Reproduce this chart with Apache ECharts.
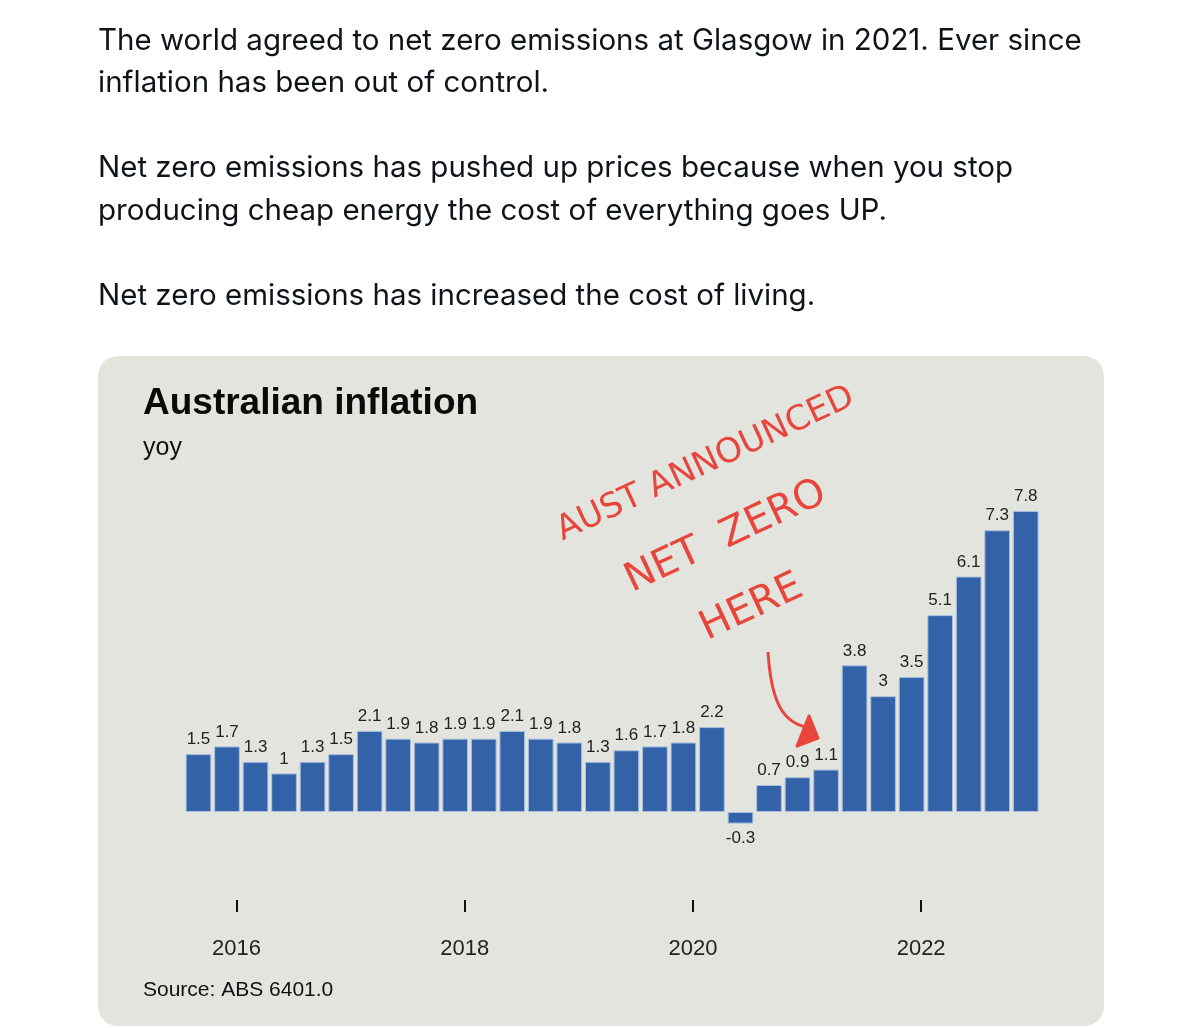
<!DOCTYPE html>
<html>
<head>
<meta charset="utf-8">
<script src="https://cdn.jsdelivr.net/npm/echarts@6/dist/echarts.min.js"></script>
<style>
  html, body { margin: 0; padding: 0; background: #fff; }
  #chart { width: 1200px; height: 1028px; }
</style>
</head>
<body>
<div id="chart"></div>
<script>
// quarterly CPI, year on year (%)
var quarters = [
  'Sep-2015', 'Dec-2015', 'Mar-2016', 'Jun-2016', 'Sep-2016', 'Dec-2016',
  'Mar-2017', 'Jun-2017', 'Sep-2017', 'Dec-2017', 'Mar-2018', 'Jun-2018',
  'Sep-2018', 'Dec-2018', 'Mar-2019', 'Jun-2019', 'Sep-2019', 'Dec-2019',
  'Mar-2020', 'Jun-2020', 'Sep-2020', 'Dec-2020', 'Mar-2021', 'Jun-2021',
  'Sep-2021', 'Dec-2021', 'Mar-2022', 'Jun-2022', 'Sep-2022', 'Dec-2022'
];
var inflation = [
  1.5, 1.7, 1.3, 1, 1.3, 1.5,
  2.1, 1.9, 1.8, 1.9, 1.9, 2.1,
  1.9, 1.8, 1.3, 1.6, 1.7, 1.8,
  2.2, -0.3, 0.7, 0.9, 1.1, 3.8,
  3, 3.5, 5.1, 6.1, 7.3, 7.8
];
var tickYears = [2016, 2018, 2020, 2022];

var tweetLines = [
  'The world agreed to net zero emissions at Glasgow in 2021. Ever since',
  'inflation has been out of control.',
  '',
  'Net zero emissions has pushed up prices because when you stop',
  'producing cheap energy the cost of everything goes UP.',
  '',
  'Net zero emissions has increased the cost of living.'
];
var noteLines = ['AUST ANNOUNCED', 'NET  ZERO', 'HERE'];

// first bar is Sep 2015, year ticks sit at 1 January
function yearToIndex(y) { return ((y - 2015) * 12 - 8) / 3; }
var tickPos = tickYears.map(yearToIndex);

var chart = echarts.init(document.getElementById('chart'));

var font = '"Liberation Sans", Arial, Helvetica, sans-serif';
var red = '#e8463d';
var rot = 25 * Math.PI / 180;

var graphics = [
  {
    type: 'rect', z: -10, silent: true,
    shape: { x: 98, y: 356, width: 1006, height: 670, r: 20 },
    style: { fill: '#e4e4df' }
  },
  {
    type: 'text', x: 143, y: 404,
    style: { text: 'Australian inflation', font: 'bold 37px ' + font, fill: '#0a0a0a', verticalAlign: 'middle' }
  },
  {
    type: 'text', x: 143, y: 448,
    style: { text: 'yoy', font: '25px ' + font, fill: '#111', verticalAlign: 'middle' }
  },
  {
    type: 'text', x: 143, y: 990,
    style: { text: 'Source: ABS 6401.0', font: '21px ' + font, fill: '#111', verticalAlign: 'middle' }
  }
];

tweetLines.forEach(function (line, i) {
  if (!line) return;
  graphics.push({
    type: 'text', x: 98, y: 41 + i * 42.5,
    style: { text: line, font: '29.5px Inter, "Noto Sans", sans-serif', fill: '#0f1419', verticalAlign: 'middle' }
  });
});

// handwritten note
var notePos = [[566, 548], [636, 601], [711, 649]];
var noteSize = [34, 40, 40];
noteLines.forEach(function (line, i) {
  graphics.push({
    type: 'text', x: notePos[i][0], y: notePos[i][1], rotation: rot,
    style: { text: line, font: noteSize[i] + 'px "DejaVu Sans", sans-serif', fill: red, verticalAlign: 'bottom' }
  });
});
graphics.push({
  type: 'bezierCurve',
  shape: { x1: 768, y1: 652, x2: 806, y2: 727, cpx1: 771, cpy1: 700, cpx2: 782, cpy2: 722 },
  style: { stroke: red, lineWidth: 3, fill: null }
});
graphics.push({
  type: 'polygon',
  shape: { points: [[809, 716], [818, 738], [797, 746]] },
  style: { fill: red, stroke: red, lineWidth: 3, lineJoin: 'round' }
});

var option = {
  animation: false,
  backgroundColor: '#fff',
  grid: { left: 184.2, right: 160, top: 503.2, bottom: 128 },
  xAxis: [
    {
      type: 'category',
      data: quarters,
      show: false
    },
    {
      type: 'value',
      position: 'bottom',
      min: -0.5,
      max: quarters.length - 0.5,
      axisLine: { show: false },
      splitLine: { show: false },
      axisTick: {
        show: true,
        customValues: tickPos,
        length: 12,
        lineStyle: { color: '#111', width: 2 }
      },
      axisLabel: {
        customValues: tickPos,
        margin: 38,
        fontSize: 22,
        fontFamily: font,
        color: '#222',
        formatter: function (v) {
          return String(tickYears[tickPos.indexOf(v)] || Math.round(2015 + (v * 3 + 8) / 12));
        }
      }
    }
  ],
  yAxis: {
    type: 'value',
    min: -2.28,
    max: 8,
    show: false
  },
  series: [
    {
      type: 'bar',
      xAxisIndex: 0,
      barCategoryGap: '10%',
      data: inflation.map(function (v) {
        return v < 0 ? { value: v, label: { position: 'bottom' } } : v;
      }),
      itemStyle: { color: '#3462a8', borderColor: '#a8bfdf', borderWidth: 1 },
      label: {
        show: true,
        position: 'top',
        distance: 6,
        fontSize: 17,
        fontFamily: font,
        color: '#222'
      }
    }
  ],
  graphic: graphics
};

chart.setOption(option);
</script>
</body>
</html>
